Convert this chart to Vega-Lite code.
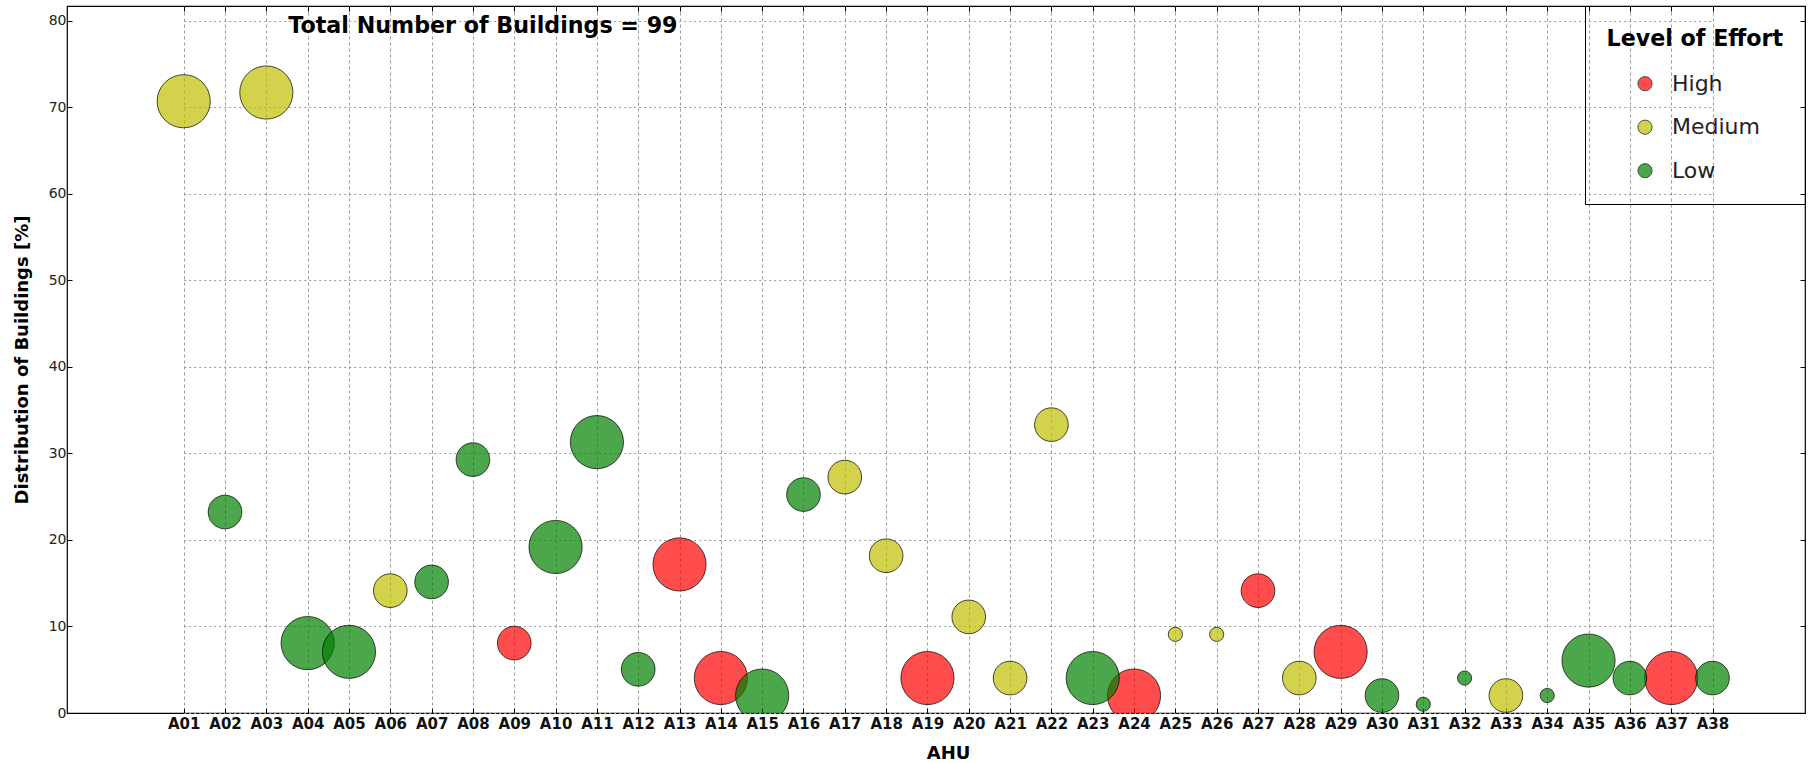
{
  "$schema": "https://vega.github.io/schema/vega-lite/v6.json",
  "width": 1738,
  "height": 707,
  "autosize": {"type": "none"},
  "padding": {"left": 67, "top": 6, "right": 7, "bottom": 50},
  "background": "white",
  "config": {
    "font": "DejaVu Sans",
    "view": {"stroke": "black", "strokeWidth": 1.2},
    "axis": {
      "labelFont": "DejaVu Sans",
      "titleFont": "DejaVu Sans",
      "titleFontSize": 18,
      "titleFontWeight": "bold",
      "titleColor": "black",
      "domain": false,
      "tickColor": "black",
      "tickSize": -5,
      "gridColor": "#9a9a9a",
      "gridWidth": 1,
      "zindex": 1
    }
  },
  "data": {
    "values": [
      {"AHU": "A09", "Effort": "High", "Distribution": 8.08, "Impact": 2},
      {"AHU": "A13", "Effort": "High", "Distribution": 17.17, "Impact": 3},
      {"AHU": "A14", "Effort": "High", "Distribution": 4.04, "Impact": 3},
      {"AHU": "A19", "Effort": "High", "Distribution": 4.04, "Impact": 3},
      {"AHU": "A24", "Effort": "High", "Distribution": 2.02, "Impact": 3},
      {"AHU": "A27", "Effort": "High", "Distribution": 14.14, "Impact": 2},
      {"AHU": "A29", "Effort": "High", "Distribution": 7.07, "Impact": 3},
      {"AHU": "A37", "Effort": "High", "Distribution": 4.04, "Impact": 3},
      {"AHU": "A01", "Effort": "Medium", "Distribution": 70.71, "Impact": 3},
      {"AHU": "A03", "Effort": "Medium", "Distribution": 71.72, "Impact": 3},
      {"AHU": "A06", "Effort": "Medium", "Distribution": 14.14, "Impact": 2},
      {"AHU": "A17", "Effort": "Medium", "Distribution": 27.27, "Impact": 2},
      {"AHU": "A18", "Effort": "Medium", "Distribution": 18.18, "Impact": 2},
      {"AHU": "A20", "Effort": "Medium", "Distribution": 11.11, "Impact": 2},
      {"AHU": "A21", "Effort": "Medium", "Distribution": 4.04, "Impact": 2},
      {"AHU": "A22", "Effort": "Medium", "Distribution": 33.33, "Impact": 2},
      {"AHU": "A25", "Effort": "Medium", "Distribution": 9.09, "Impact": 1},
      {"AHU": "A26", "Effort": "Medium", "Distribution": 9.09, "Impact": 1},
      {"AHU": "A28", "Effort": "Medium", "Distribution": 4.04, "Impact": 2},
      {"AHU": "A33", "Effort": "Medium", "Distribution": 2.02, "Impact": 2},
      {"AHU": "A02", "Effort": "Low", "Distribution": 23.23, "Impact": 2},
      {"AHU": "A04", "Effort": "Low", "Distribution": 8.08, "Impact": 3},
      {"AHU": "A05", "Effort": "Low", "Distribution": 7.07, "Impact": 3},
      {"AHU": "A07", "Effort": "Low", "Distribution": 15.15, "Impact": 2},
      {"AHU": "A08", "Effort": "Low", "Distribution": 29.29, "Impact": 2},
      {"AHU": "A10", "Effort": "Low", "Distribution": 19.19, "Impact": 3},
      {"AHU": "A11", "Effort": "Low", "Distribution": 31.31, "Impact": 3},
      {"AHU": "A12", "Effort": "Low", "Distribution": 5.05, "Impact": 2},
      {"AHU": "A15", "Effort": "Low", "Distribution": 2.02, "Impact": 3},
      {"AHU": "A16", "Effort": "Low", "Distribution": 25.25, "Impact": 2},
      {"AHU": "A23", "Effort": "Low", "Distribution": 4.04, "Impact": 3},
      {"AHU": "A30", "Effort": "Low", "Distribution": 2.02, "Impact": 2},
      {"AHU": "A31", "Effort": "Low", "Distribution": 1.01, "Impact": 1},
      {"AHU": "A32", "Effort": "Low", "Distribution": 4.04, "Impact": 1},
      {"AHU": "A34", "Effort": "Low", "Distribution": 2.02, "Impact": 1},
      {"AHU": "A35", "Effort": "Low", "Distribution": 6.06, "Impact": 3},
      {"AHU": "A36", "Effort": "Low", "Distribution": 4.04, "Impact": 2},
      {"AHU": "A38", "Effort": "Low", "Distribution": 4.04, "Impact": 2}
    ]
  },
  "layer": [
    {
      "mark": {
        "type": "point",
        "shape": "circle",
        "filled": true,
        "fillOpacity": 0.7,
        "stroke": "black",
        "strokeOpacity": 0.7,
        "strokeWidth": 1,
        "clip": true
      },
      "encoding": {
        "x": {
          "field": "AHU",
          "type": "nominal",
          "sort": "ascending",
          "scale": {"type": "point", "padding": 0, "range": [116.7, 1645.5]},
          "title": "AHU",
          "axis": {
            "orient": "bottom",
            "labelAngle": 0,
            "labelFontSize": 15,
            "labelFontWeight": "bold",
            "labelColor": "#111111",
            "labelPadding": 8,
            "titlePadding": 13,
            "grid": true,
            "gridDash": [3, 3]
          }
        },
        "y": {
          "field": "Distribution",
          "type": "quantitative",
          "scale": {"domain": [0, 81.72], "nice": false, "zero": false},
          "title": "Distribution of Buildings [%]",
          "axis": {
            "orient": "left",
            "values": [0, 10, 20, 30, 40, 50, 60, 70, 80],
            "labelFontSize": 14,
            "labelColor": "#222222",
            "labelPadding": 6,
            "titlePadding": 17,
            "grid": true,
            "gridDash": [2, 3]
          }
        },
        "color": {
          "field": "Effort",
          "type": "nominal",
          "scale": {"domain": ["High", "Medium", "Low"], "range": ["#ff0000", "#bfbf00", "#008000"]},
          "legend": {
            "title": "Level of Effort",
            "orient": "top-right",
            "offset": 0,
            "padding": 21.5,
            "strokeColor": "black",
            "titleFont": "DejaVu Sans",
            "titleFontSize": 22.2,
            "titleFontWeight": "bold",
            "titleColor": "black",
            "titlePadding": 23,
            "labelFont": "DejaVu Sans",
            "labelFontSize": 22,
            "labelColor": "#222222",
            "symbolType": "circle",
            "symbolSize": 201,
            "symbolStrokeColor": "black",
            "symbolStrokeWidth": 1,
            "symbolOpacity": 0.7,
            "symbolOffset": 27.5,
            "labelOffset": 16,
            "rowPadding": 21.5
          }
        },
        "size": {
          "field": "Impact",
          "type": "quantitative",
          "scale": {"domain": [1, 2, 3], "range": [201, 1134, 2827]},
          "legend": null
        }
      }
    },
    {
      "data": {"values": [{"AHU": "A08", "Distribution": 80, "Label": "Total Number of Buildings = 99"}]},
      "mark": {
        "type": "text",
        "font": "DejaVu Sans",
        "fontSize": 22.2,
        "fontWeight": "bold",
        "align": "center",
        "baseline": "alphabetic",
        "dx": 10,
        "dy": 12,
        "color": "black"
      },
      "encoding": {
        "x": {
          "field": "AHU",
          "type": "nominal",
          "sort": "ascending",
          "axis": {"orient": "top", "labels": false, "title": null, "grid": false, "ticks": true}
        },
        "y": {
          "field": "Distribution",
          "type": "quantitative",
          "axis": {"orient": "right", "values": [0, 10, 20, 30, 40, 50, 60, 70, 80], "labels": false, "title": null, "grid": false, "ticks": true}
        },
        "text": {"field": "Label"}
      }
    }
  ]
}
